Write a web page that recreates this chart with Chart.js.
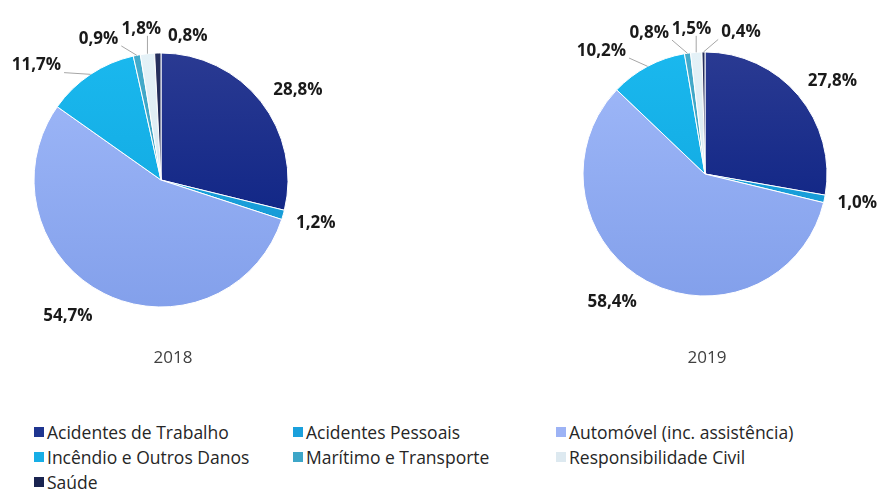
<!DOCTYPE html>
<html>
<head>
<meta charset="utf-8">
<script src="https://cdn.jsdelivr.net/npm/chart.js@4"></script>
<style>
  html, body { margin: 0; padding: 0; background: #fff; }
  body { width: 878px; height: 493px; position: relative; overflow: hidden; font-family: "Open Sans", sans-serif; }
  .pie { position: absolute; top: 0; }
  #c2018 { left: 0; }
  #c2019 { left: 540px; }
  .year { position: absolute; top: 345px; font-size: 17px; color: #404040; width: 80px; text-align: center; }
  #legend { position: absolute; left: 34px; top: 420px; width: 840px; }
  .item { position: absolute; font-size: 17.5px; color: #262626; white-space: nowrap; line-height: 24px; }
  .item span { display: inline-block; width: 10px; height: 10px; margin-right: 3px; vertical-align: 2px; }
</style>
</head>
<body>
<canvas id="c2018" class="pie" width="340" height="400"></canvas>
<canvas id="c2019" class="pie" width="338" height="400"></canvas>
<div class="year" style="left:133px">2018</div>
<div class="year" style="left:667px">2019</div>
<div id="legend"></div>
<script>
const categories = ['Acidentes de Trabalho', 'Acidentes Pessoais', 'Automóvel (inc. assistência)',
  'Incêndio e Outros Danos', 'Marítimo e Transporte', 'Responsibilidade Civil', 'Saúde'];
const years = ['2018', '2019'];
const values2018 = [28.8, 1.2, 54.7, 11.7, 0.9, 1.8, 0.8];
const values2019 = [27.8, 1.0, 58.4, 10.2, 0.8, 1.5, 0.4];

// gradient top / bottom per slice, plus flat legend colour
const topColors = ['#2a3a92', '#22a8e2', '#a0b9f9', '#1ab8ee', '#44abcb', '#e4f1f7', '#26305e'];
const bottomColors = ['#041c80', '#1196d2', '#83a0eb', '#0ea3dc', '#3397b8', '#d3e5ee', '#141d45'];
const legendColors = ['#1f3590', '#1aa0dc', '#9db3f5', '#17aee6', '#3da6c8', '#dde9f0', '#1a2450'];

function sliceFill(c) {
  const i = c.dataIndex;
  const a = c.chart.chartArea;
  if (!a || i === undefined) return topColors[i || 0];
  const g = c.chart.ctx.createLinearGradient(0, a.top, 0, a.bottom);
  g.addColorStop(0, topColors[i]);
  g.addColorStop(1, bottomColors[i]);
  return g;
}

const fmt = v => v.toFixed(1).replace('.', ',') + '%';

// labels outside the pie, some with leader lines
const outLabels = {
  id: 'outLabels',
  afterDatasetsDraw(chart, args, opts) {
    const ctx = chart.ctx;
    const meta = chart.getDatasetMeta(0);
    const data = chart.data.datasets[0].data;
    ctx.save();
    ctx.font = 'bold 17px "Open Sans"';
    ctx.textAlign = 'center';
    ctx.textBaseline = 'middle';
    meta.data.forEach((arc, i) => {
      const p = arc.getProps(['x', 'y', 'startAngle', 'endAngle', 'outerRadius'], true);
      const mid = (p.startAngle + p.endAngle) / 2;
      const ex = p.x + Math.cos(mid) * p.outerRadius;
      const ey = p.y + Math.sin(mid) * p.outerRadius;
      const lx = p.x + Math.cos(mid) * p.outerRadius * 1.3 + opts.nudge[i][0];
      const ly = p.y + Math.sin(mid) * p.outerRadius * 1.3 + opts.nudge[i][1];
      const text = fmt(data[i]);
      if (opts.leader[i]) {
        const w = ctx.measureText(text).width / 2 + 3, h = 7;
        const px = Math.min(Math.max(ex, lx - w), lx + w);
        const py = Math.min(Math.max(ey, ly - h), ly + h);
        ctx.strokeStyle = '#a6a6a6';
        ctx.lineWidth = 1;
        ctx.beginPath();
        ctx.moveTo(ex, ey);
        ctx.lineTo(px, py);
        ctx.stroke();
      }
      ctx.fillStyle = '#1a1a1a';
      ctx.fillText(text, lx, ly);
    });
    ctx.restore();
  }
};

function makePie(id, values, radius, padding, nudge, leader) {
  new Chart(document.getElementById(id), {
    type: 'pie',
    data: {
      labels: categories,
      datasets: [{
        data: values,
        backgroundColor: sliceFill,
        borderColor: '#ffffff',
        borderWidth: 1,
        hoverBorderWidth: 1,
        hoverOffset: 0
      }]
    },
    options: {
      responsive: false,
      animation: false,
      radius: radius,
      layout: { padding: padding },
      plugins: {
        legend: { display: false },
        tooltip: { enabled: false },
        outLabels: { nudge: nudge, leader: leader }
      }
    },
    plugins: [outLabels]
  });
}

makePie('c2018', values2018, 127, { left: 34, top: 53, right: 52, bottom: 93 },
  [[7, 12], [-4, -2], [-19, -11], [-33, 23], [-31, 21], [-2, 13], [31, 21]],
  [false, false, false, true, true, true, false]);

makePie('c2019', values2019, 122, { left: 43, top: 52, right: 51, bottom: 104 },
  [[6, 9], [-3, -3], [-17, -11], [-29, 17], [-33, 16], [-2, 13], [38, 17]],
  [false, false, false, true, true, true, true]);

// legend, three columns
const legend = document.getElementById('legend');
const colX = [0, 259, 522];
categories.forEach((name, i) => {
  const el = document.createElement('div');
  el.className = 'item';
  el.style.left = colX[i % 3] + 'px';
  el.style.top = Math.floor(i / 3) * 25 + 'px';
  el.innerHTML = '<span style="background:' + legendColors[i] + '"></span>' + name;
  legend.appendChild(el);
});
</script>
</body>
</html>
